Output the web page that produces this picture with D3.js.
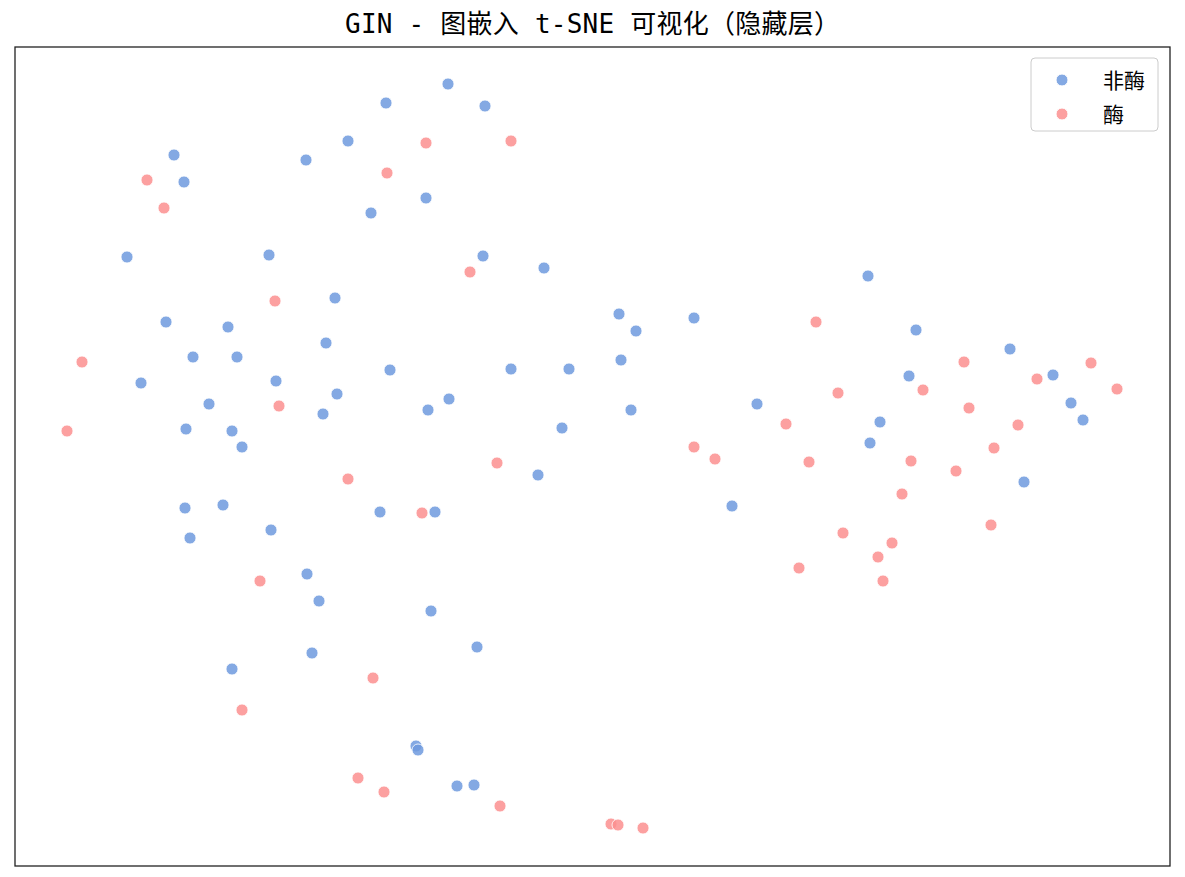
<!DOCTYPE html><html><head><meta charset="utf-8"><script src="https://cdn.jsdelivr.net/npm/d3@7"></script>
<style>body{margin:0;background:#fff}</style></head><body><svg id="c" width="1185" height="877"></svg><script>
const title="GIN - 图嵌入 t-SNE 可视化（隐藏层）";
const seriesNames=["非酶","酶"];
const colors=["#6f9ade","#fb8f8f"];
const nonEnzyme=[[448,84],[386,103],[485,106],[348,141],[174,155],[306,160],[184,182],[371,213],[426,198],[127,257],[269,255],[483,256],[544,268],[868,276],[335,298],[166,322],[228,327],[619,314],[636,331],[694,318],[916,330],[326,343],[193,357],[237,357],[621,360],[1010,349],[141,383],[276,381],[390,370],[511,369],[569,369],[909,376],[1053,375],[337,394],[209,404],[449,399],[323,414],[428,410],[631,410],[757,404],[1071,403],[186,429],[232,431],[562,428],[880,422],[1083,420],[242,447],[870,443],[538,475],[1024,482],[185,508],[223,505],[380,512],[435,512],[732,506],[271,530],[190,538],[307,574],[319,601],[431,611],[477,647],[312,653],[232,669],[416,746],[418,750],[457,786],[474,785]];
const enzyme=[[426,143],[511,141],[147,180],[387,173],[164,208],[470,272],[275,301],[816,322],[82,362],[964,362],[1091,363],[1037,379],[923,390],[838,393],[1117,389],[279,406],[969,408],[67,431],[786,424],[1018,425],[694,447],[994,448],[715,459],[809,462],[911,461],[497,463],[956,471],[348,479],[902,494],[422,513],[991,525],[843,533],[892,543],[878,557],[799,568],[883,581],[260,581],[373,678],[242,710],[358,778],[384,792],[500,806],[611,824],[618,825],[643,828]];
const svg=d3.select("#c");
const L=15,R=1170,T=47,B=866;
const x=d3.scaleLinear().domain([15,1170]).range([L,R]);
const y=d3.scaleLinear().domain([47,866]).range([T,B]);
const font="'DejaVu Sans Mono','Noto Sans CJK SC',monospace";
svg.append("text").attr("x",(L+R)/2).attr("y",33).attr("text-anchor","middle").attr("font-family",font).attr("font-size",26).attr("textLength",495).text(title);
[nonEnzyme,enzyme].forEach((d,i)=>{
 svg.append("g").selectAll("circle").data(d).join("circle").attr("cx",p=>x(p[0])).attr("cy",p=>y(p[1])).attr("r",6)
 .attr("fill",colors[i]).attr("fill-opacity",0.85).attr("stroke","#fff").attr("stroke-width",0.8);
});
svg.append("rect").attr("x",L).attr("y",T).attr("width",R-L).attr("height",B-T).attr("fill","none").attr("stroke","#222").attr("stroke-width",1.3);
const lg=svg.append("g");
lg.append("rect").attr("x",1031).attr("y",58).attr("width",127).attr("height",73).attr("rx",4).attr("fill","#fff").attr("fill-opacity",0.8).attr("stroke","#ccc");
seriesNames.forEach((n,i)=>{
 lg.append("circle").attr("cx",1062).attr("cy",80+i*34).attr("r",6).attr("fill",colors[i]).attr("fill-opacity",0.85).attr("stroke","#fff");
 lg.append("text").attr("x",1103).attr("y",88+i*34).attr("font-family",font).attr("font-size",21).text(n);
});
</script></body></html>
